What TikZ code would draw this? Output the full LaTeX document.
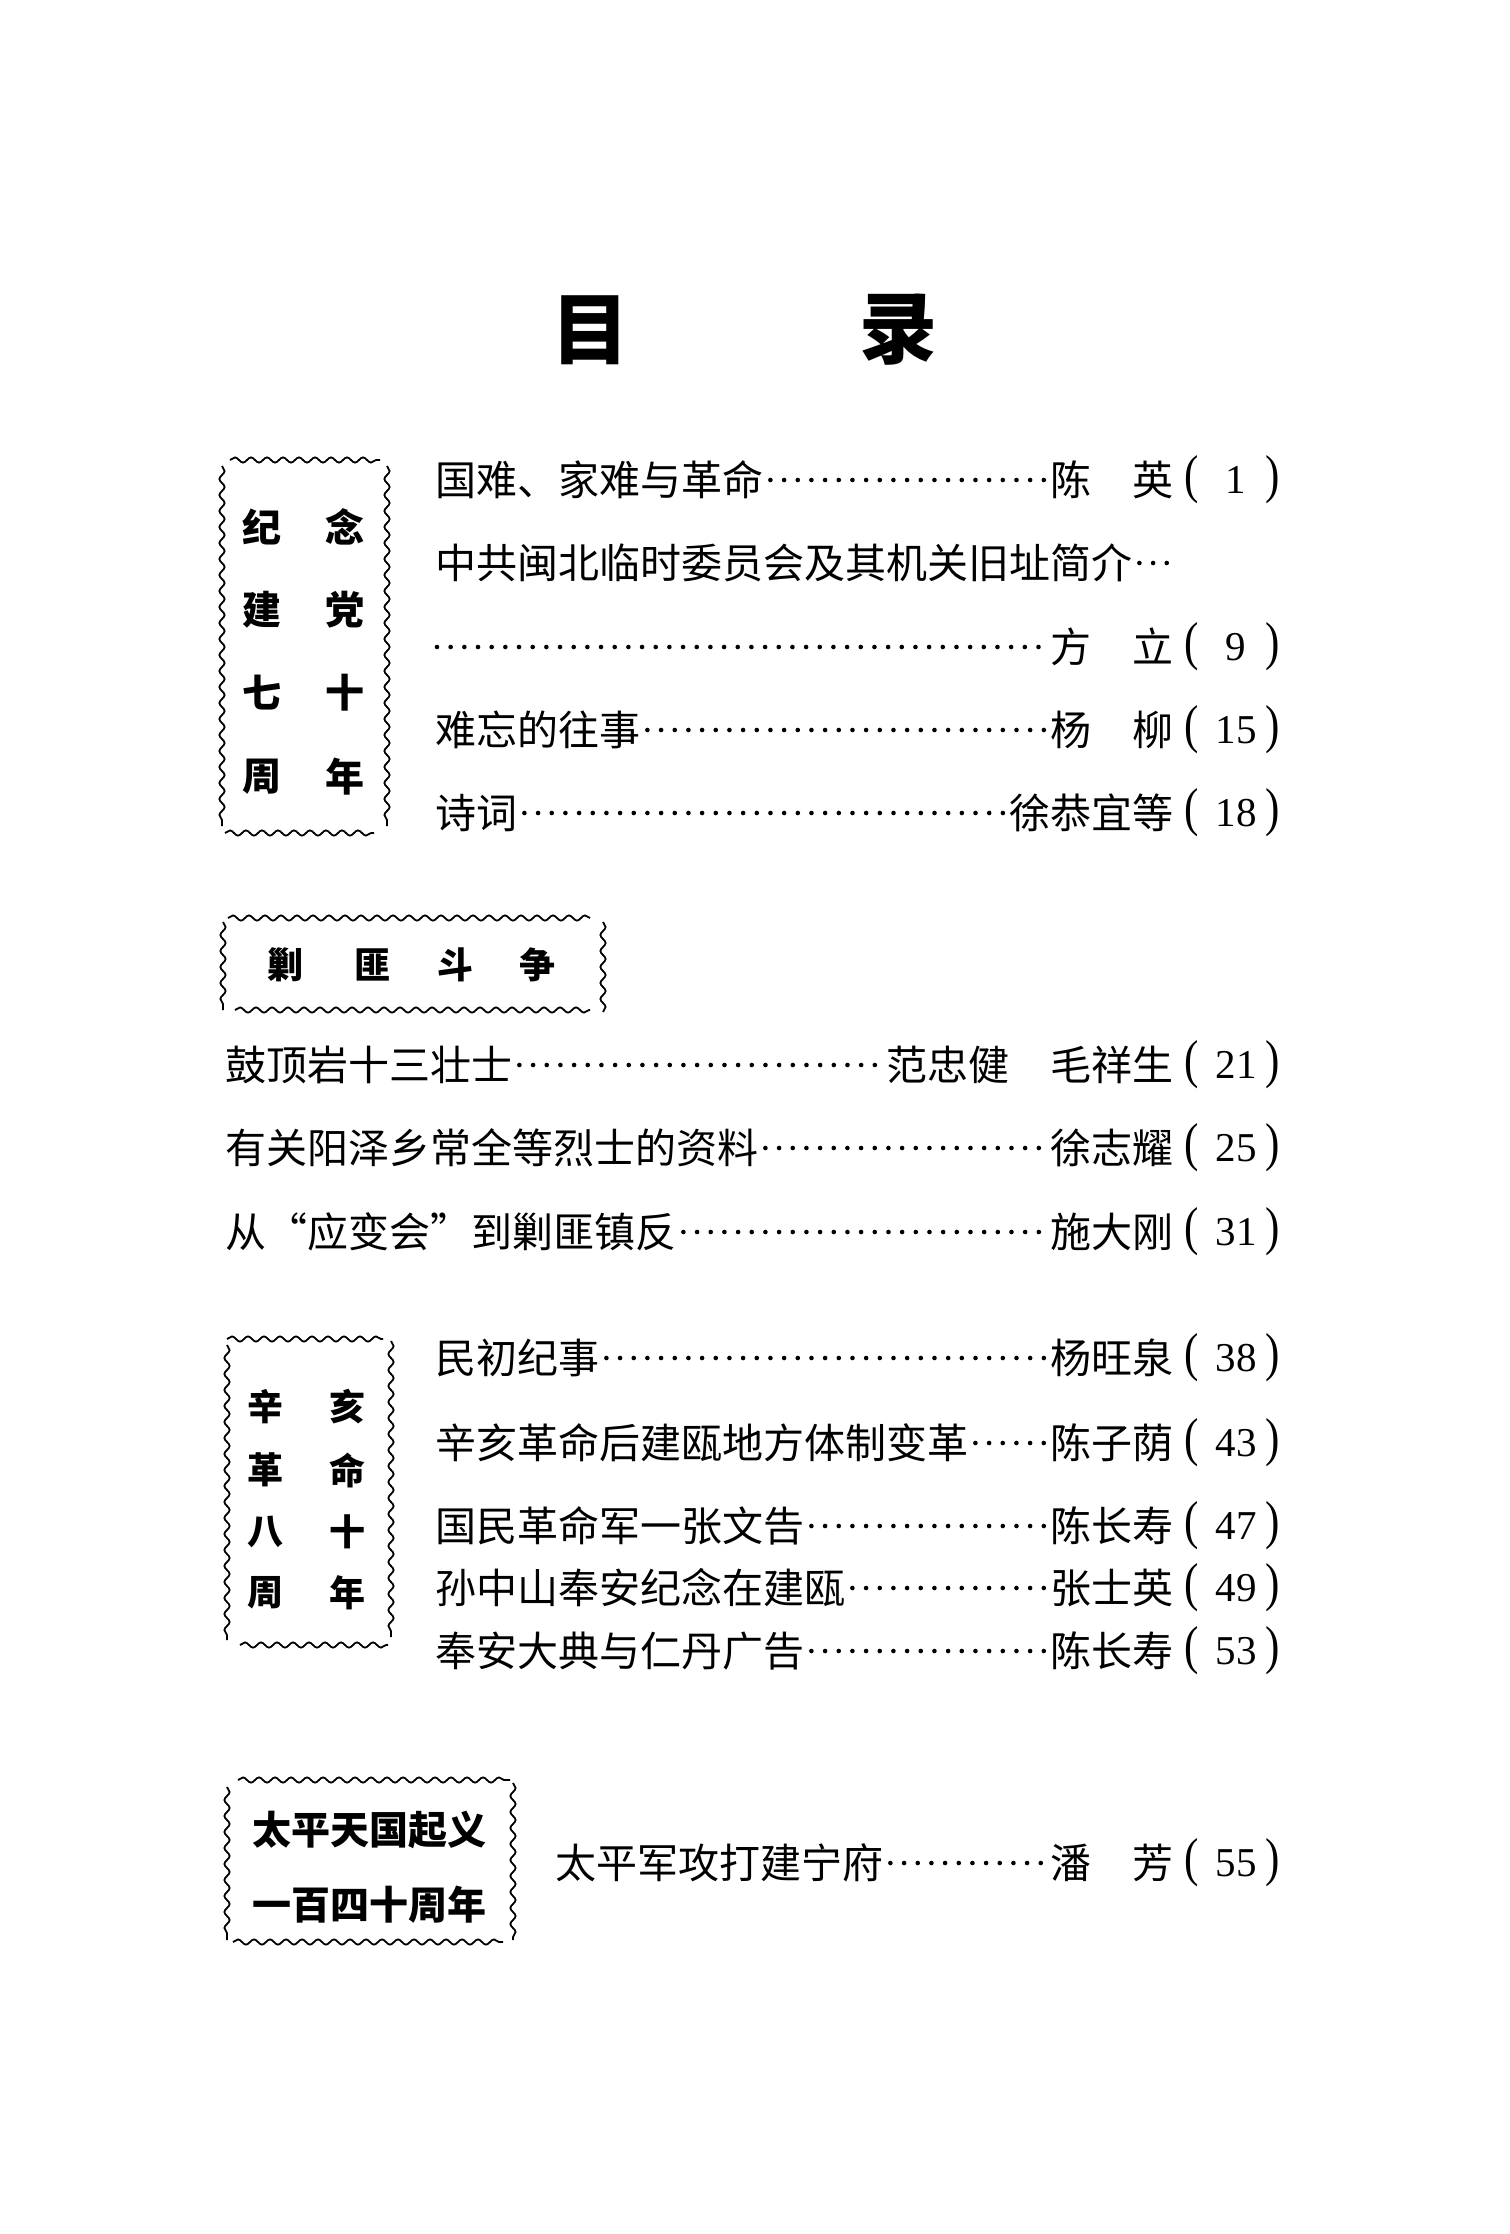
\documentclass[tikz,border=0pt]{standalone}
\usepackage{fontspec}
\setmainfont{Liberation Serif}
\newfontfamily\cjk{Noto Sans CJK SC}
\usetikzlibrary{decorations.pathmorphing}
\tikzset{
  bodytxt/.style={inner sep=0pt, font=\cjk\fontsize{41pt}{41pt}\selectfont, text height=36pt, text depth=5pt},
  numtxt/.style={inner sep=0pt, font=\fontsize{41pt}{41pt}\selectfont},
  hdtxt/.style={inner sep=0pt, font=\cjk\bfseries\fontsize{#1}{#1}\selectfont},
  hdtxt/.default=38pt,
  leader/.style={line width=4.6pt, line cap=round, dash pattern=on 0pt off 13.67pt, shorten <=7pt, shorten >=5pt},
  wav/.style={line width=1.8pt, decorate, decoration={snake, segment length=16pt, amplitude=2.6pt}},
}
\newcommand\tallparen[1]{\scalebox{1.05}[1.3]{#1}}
% #1 name, #2 x, #3 y, #4 title, #5 author, #6 page
\newcommand\tocrow[6]{%
  \node[bodytxt, anchor=west] (#1t) at (#2,#3) {#4};
  \node[bodytxt, anchor=east] (#1a) at (1174,#3) {#5};
  \node[numtxt] (#1o) at (1192,#3) {\tallparen{(}};
  \node[numtxt] (#1n) at (1236,#3) {#6};
  \node[numtxt] (#1c) at (1273,#3) {\tallparen{)}};
  \draw[leader] (#1t.east) -- (#1a.west);
}
\begin{document}
\begin{tikzpicture}[x=1pt, y=-1pt]
\fill[white] (0,0) rectangle (1509,2234);
\useasboundingbox (0,0) rectangle (1509,2234);

% title
\node[hdtxt=78pt] (tmu) at (590,330) {目};
\node[hdtxt=78pt] (tlu) at (898,330) {录};

% ---------- section 1 ----------
\draw[wav] (230,460) -- (380,460);
\draw[wav] (225,833) -- (374,833);
\draw[wav] (222,466) -- (222,826);
\draw[wav] (387,466) -- (387,826);
\foreach \l/\r/\y in {纪/念/527, 建/党/610, 七/十/693, 周/年/777}{
  \node[hdtxt=39pt] (b1l\y) at (262,\y) {\l};
  \node[hdtxt=39pt] (b1r\y) at (345,\y) {\r};
}
\tocrow{ra}{435}{480}{国难、家难与革命}{陈　英}{1}
\node[bodytxt, anchor=west] (rbt) at (435,563) {中共闽北临时委员会及其机关旧址简介};
\coordinate (rbe) at (1172,563);
\draw[leader] (rbt.east) -- (rbe);
\coordinate (rcs) at (430,647);
\node[bodytxt, anchor=east] (rca) at (1174,647) {方　立};
\node[numtxt] (rco) at (1192,647) {\tallparen{(}};
\node[numtxt] (rcn) at (1236,647) {9};
\node[numtxt] (rcc) at (1273,647) {\tallparen{)}};
\draw[leader] (rcs) -- (rca.west);
\tocrow{rd}{435}{730}{难忘的往事}{杨　柳}{15}
\tocrow{re}{435}{813}{诗词}{徐恭宜等}{18}

% ---------- section 2 ----------
\draw[wav] (228,918) -- (590,918);
\draw[wav] (235,1010) -- (590,1010);
\draw[wav] (223,922) -- (223,1010);
\draw[wav] (603,922) -- (603,1012);
\node[hdtxt=36pt] (b2a) at (285,965) {剿};
\node[hdtxt=36pt] (b2b) at (372,965) {匪};
\node[hdtxt=36pt] (b2c) at (455,965) {斗};
\node[hdtxt=36pt] (b2d) at (537,965) {争};
\tocrow{sa}{225}{1065}{鼓顶岩十三壮士}{范忠健　毛祥生}{21}
\tocrow{sb}{225}{1148}{有关阳泽乡常全等烈士的资料}{徐志耀}{25}
\tocrow{sc}{225}{1232}{从“应变会”到剿匪镇反}{施大刚}{31}

% ---------- section 3 ----------
\draw[wav] (227,1339) -- (383,1339);
\draw[wav] (240,1645) -- (388,1645);
\draw[wav] (227,1345) -- (227,1640);
\draw[wav] (391,1341) -- (391,1637);
\foreach \l/\r/\y in {辛/亥/1407, 革/命/1470, 八/十/1532, 周/年/1593}{
  \node[hdtxt=36pt] (b3l\y) at (265,\y) {\l};
  \node[hdtxt=36pt] (b3r\y) at (347,\y) {\r};
}
\tocrow{ta}{435}{1358}{民初纪事}{杨旺泉}{38}
\tocrow{tb}{435}{1443}{辛亥革命后建瓯地方体制变革}{陈子荫}{43}
\tocrow{tc}{435}{1526}{国民革命军一张文告}{陈长寿}{47}
\tocrow{td}{435}{1588}{孙中山奉安纪念在建瓯}{张士英}{49}
\tocrow{te}{435}{1651}{奉安大典与仁丹广告}{陈长寿}{53}

% ---------- section 4 ----------
\draw[wav] (238,1780) -- (510,1780);
\draw[wav] (233,1942) -- (503,1942);
\draw[wav] (227,1787) -- (227,1940);
\draw[wav] (513,1783) -- (513,1940);
\node[hdtxt=39pt] (b4a) at (369,1830) {太平天国起义};
\node[hdtxt=39pt] (b4b) at (369,1905) {一百四十周年};
\tocrow{ua}{555}{1863}{太平军攻打建宁府}{潘　芳}{55}
\end{tikzpicture}
\end{document}
